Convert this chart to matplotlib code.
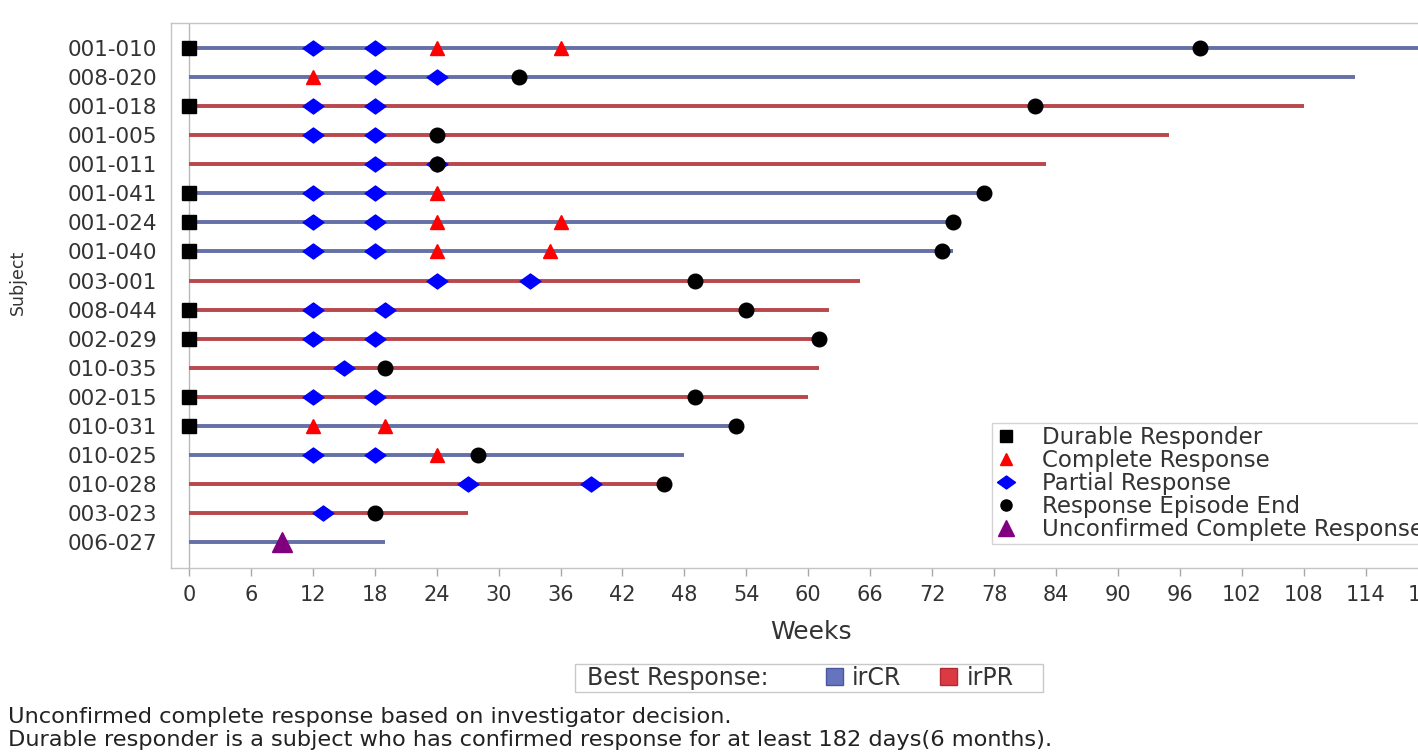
import numpy as np
import matplotlib.pyplot as plt
from matplotlib.path import Path
from matplotlib.patches import Patch, Rectangle
from matplotlib.lines import Line2D

plt.rcParams['font.family'] = 'DejaVu Sans'

# Subjects, top to bottom
subjects = ['001-010', '008-020', '001-018', '001-005', '001-011', '001-041',
            '001-024', '001-040', '003-001', '008-044', '002-029', '010-035',
            '002-015', '010-031', '010-025', '010-028', '003-023', '006-027']
best_resp = ['irCR', 'irCR', 'irPR', 'irPR', 'irPR', 'irCR', 'irCR', 'irCR', 'irPR',
             'irPR', 'irPR', 'irPR', 'irPR', 'irCR', 'irCR', 'irPR', 'irPR', 'irCR']
duration = [125, 113, 108, 95, 83, 77, 74, 74, 65, 62, 61, 61, 60, 53, 48, 46, 27, 19]

# Durable responders (marked at week 0)
durable_subj = ['001-010', '001-018', '001-041', '001-024', '001-040',
                '008-044', '002-029', '002-015', '010-031']
durable_week = [0, 0, 0, 0, 0, 0, 0, 0, 0]

# Complete response
cr_subj = ['001-010', '001-010', '008-020', '001-041', '001-024', '001-024',
           '001-040', '001-040', '010-031', '010-031', '010-025']
cr_week = [24, 36, 12, 24, 24, 36, 24, 35, 12, 19, 24]

# Partial response
pr_subj = ['001-010', '001-010', '008-020', '008-020', '001-018', '001-018',
           '001-005', '001-005', '001-011', '001-011', '001-041', '001-041',
           '001-024', '001-024', '001-040', '001-040', '003-001', '003-001',
           '008-044', '008-044', '002-029', '002-029', '010-035', '002-015',
           '002-015', '010-025', '010-025', '010-028', '010-028', '003-023']
pr_week = [12, 18, 18, 24, 12, 18, 12, 18, 18, 24, 12, 18, 12, 18, 12, 18, 24, 33,
           12, 19, 12, 18, 15, 12, 18, 12, 18, 27, 39, 13]

# Response episode end
end_subj = ['001-010', '008-020', '001-018', '001-005', '001-011', '001-041',
            '001-024', '001-040', '003-001', '008-044', '002-029', '010-035',
            '002-015', '010-031', '010-025', '010-028', '003-023']
end_week = [98, 32, 82, 24, 24, 77, 74, 73, 49, 54, 61, 19, 49, 53, 28, 46, 18]

# Unconfirmed complete response
ucr_subj = ['006-027']
ucr_week = [9]

line_colors = {'irCR': '#6570a6', 'irPR': '#b9474c'}
patch_colors = {'irCR': '#6674bd', 'irPR': '#dc3a42'}
txt = '#333333'

W, H = 1418, 753
fig = plt.figure(figsize=(W / 100, H / 100), dpi=100)
ax = fig.add_axes([171 / W, 1 - 568 / H, (1445 - 171) / W, (568 - 23) / H])

ypos = {s: i for i, s in enumerate(subjects)}

ax.axvline(0, color='#b8b8b8', lw=1, zorder=1)
ax.hlines([ypos[s] for s in subjects], 0, duration,
          colors=[line_colors[b] for b in best_resp], lw=2.8, zorder=2)

diamond = Path([(-1, 0), (0, 0.72), (1, 0), (0, -0.72), (-1, 0)],
               [Path.MOVETO, Path.LINETO, Path.LINETO, Path.LINETO, Path.CLOSEPOLY])

ax.plot(durable_week, [ypos[s] for s in durable_subj], ls='none', marker='s',
        ms=9.5, color='black', zorder=3)
ax.plot(cr_week, [ypos[s] for s in cr_subj], ls='none', marker='^',
        ms=10, color='#ff0000', zorder=3)
ax.plot(pr_week, [ypos[s] for s in pr_subj], ls='none', marker=diamond,
        ms=15, color='#0000ff', zorder=4)
ax.plot(end_week, [ypos[s] for s in end_subj], ls='none', marker='o',
        ms=10.5, color='black', zorder=5)
ax.plot(ucr_week, [ypos[s] for s in ucr_subj], ls='none', marker='^',
        ms=14, color='#800080', zorder=5)

ax.set_xlim(-1.74, 121.7)
ax.set_ylim(17.89, -0.86)
ax.set_xticks(np.arange(0, 121, 6))
ax.set_yticks(range(len(subjects)))
ax.set_yticklabels(subjects)
ax.tick_params(axis='y', length=0, pad=10, labelsize=15.5, labelcolor=txt)
ax.tick_params(axis='x', length=6, width=1, color='#a8a8a8', pad=6,
               labelsize=15, labelcolor=txt)
for sp in ax.spines.values():
    sp.set_color('#c4c4c4')
    sp.set_linewidth(1)

# Marker legend (runs off the right edge, as in the source)
handles = [
    Line2D([], [], ls='none', marker='s', ms=8, color='black'),
    Line2D([], [], ls='none', marker='^', ms=9, color='#ff0000'),
    Line2D([], [], ls='none', marker=diamond, ms=13, color='#0000ff'),
    Line2D([], [], ls='none', marker='o', ms=8, color='black'),
    Line2D([], [], ls='none', marker='^', ms=11, color='#800080'),
]
labels = ['Durable Responder', 'Complete Response', 'Partial Response',
          'Response Episode End', 'Unconfirmed Complete Response']
leg = ax.legend(handles, labels, loc='upper left',
                bbox_to_anchor=(992 / W, 1 - 423 / H), bbox_transform=fig.transFigure,
                fontsize=16.5, frameon=True, fancybox=False, borderpad=0.12,
                handlelength=1.0, handletextpad=1.08, labelspacing=0.0,
                borderaxespad=0, labelcolor=txt)
leg.get_frame().set_edgecolor('#c8c8c8')
leg.get_frame().set_linewidth(1)

fig.text(811 / W, 1 - 632 / H, 'Weeks', ha='center', va='center',
         fontsize=18, color=txt)
fig.text(18 / W, 1 - 282 / H, 'Subject', ha='center', va='center',
         rotation=90, fontsize=12.5, color=txt)

# Best Response legend
fig.add_artist(Rectangle((575 / W, 1 - 692 / H), (1043 - 575) / W, 28 / H,
                         transform=fig.transFigure, fill=False,
                         edgecolor='#c8c8c8', lw=1))
fig.text(587 / W, 1 - 678 / H, 'Best Response:', va='center', fontsize=17, color=txt)
fig.legend([Patch(fc=patch_colors['irCR'], ec='#4a56a0'),
            Patch(fc=patch_colors['irPR'], ec='#b02a30')],
           ['irCR', 'irPR'], loc='center left',
           bbox_to_anchor=(826 / W, 1 - 678 / H), ncol=2, frameon=False,
           fontsize=17, handlelength=0.72, handleheight=0.72, handletextpad=0.38,
           columnspacing=1.65, borderpad=0, borderaxespad=0, labelcolor=txt)

fig.text(8 / W, 1 - 717 / H,
         'Unconfirmed complete response based on investigator decision.',
         va='center', fontsize=16.2, color='#222222')
fig.text(8 / W, 1 - 740 / H,
         'Durable responder is a subject who has confirmed response for at least 182 days(6 months).',
         va='center', fontsize=16.2, color='#222222')

fig.savefig('out.png', dpi=100)
